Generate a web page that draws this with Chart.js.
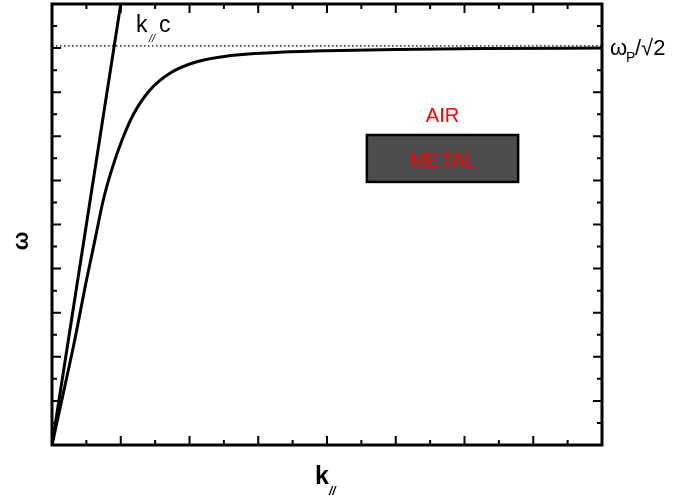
<!DOCTYPE html>
<html>
<head>
<meta charset="utf-8">
<script src="https://cdn.jsdelivr.net/npm/chart.js@4.4.1/dist/chart.umd.min.js"></script>
<style>
  html, body { margin: 0; padding: 0; background: #fff; }
  #wrap { width: 676px; height: 499px; }
</style>
</head>
<body>
<div id="wrap"><canvas id="myChart" width="676" height="499"></canvas></div>
<script>
// light line  w = k c
const lightK = [0, 2];
const lightW = [0, 20];
// surface plasmon curve
const sppK = [0, 0.35, 0.68, 0.98, 1.25, 1.49, 1.74, 2.03, 2.37, 2.85, 3.43, 4.21, 5.18, 6.5, 8, 10, 12.5, 16];
const sppW = [0, 2.5, 4.9, 7.3, 9.3, 11.1, 12.5, 13.8, 15.0, 16.1, 16.86, 17.38, 17.66, 17.8, 17.88, 17.94, 17.98, 18.0];
// wp/sqrt(2) asymptote
const asymK = [0, 16];
const asymW = [18.1, 18.1];
// tick positions (no labels in the figure)
const xTicks = [0, 1, 2, 3, 4, 5, 6, 7, 8, 9, 10, 11, 12, 13, 14, 15, 16];
const yTicks = [0, 1, 2, 3, 4, 5, 6, 7, 8, 9, 10, 11, 12, 13, 14, 15, 16, 17, 18, 19, 20];
// metal box corners in data units
const metalK = [9.16, 13.56];
const metalW = [11.93, 14.06];

function pts(xs, ys) {
  return xs.map((x, i) => ({ x: x, y: ys[i] }));
}

const FONT = '"Liberation Sans", Arial, sans-serif';

const decor = {
  id: 'decor',
  afterDraw(chart) {
    const ctx = chart.ctx;
    const a = chart.chartArea;
    const xs = chart.scales.x, ys = chart.scales.y;
    ctx.save();

    // metal box
    const bx0 = xs.getPixelForValue(metalK[0]), bx1 = xs.getPixelForValue(metalK[1]);
    const by0 = ys.getPixelForValue(metalW[1]), by1 = ys.getPixelForValue(metalW[0]);
    ctx.fillStyle = '#4d4d4d';
    ctx.fillRect(bx0, by0, bx1 - bx0, by1 - by0);
    ctx.lineWidth = 2.5;
    ctx.strokeStyle = '#000';
    ctx.strokeRect(bx0, by0, bx1 - bx0, by1 - by0);

    ctx.fillStyle = '#ff0000';
    ctx.textAlign = 'center';
    ctx.textBaseline = 'alphabetic';
    ctx.font = '20px ' + FONT;
    ctx.fillText('METAL', (bx0 + bx1) / 2, by1 - 15);
    ctx.fillText('AIR', (bx0 + bx1) / 2, by0 - 13);

    // frame
    ctx.strokeStyle = '#000';
    ctx.lineWidth = 3;
    ctx.strokeRect(a.left, a.top, a.right - a.left, a.bottom - a.top);

    // inward ticks on all four sides
    ctx.lineWidth = 2;
    ctx.beginPath();
    xTicks.forEach((t, i) => {
      if (i === 0 || i === xTicks.length - 1) return;
      const px = xs.getPixelForValue(t);
      const len = (i % 2 === 0) ? 9 : 5;
      ctx.moveTo(px, a.bottom); ctx.lineTo(px, a.bottom - len);
      ctx.moveTo(px, a.top); ctx.lineTo(px, a.top + len);
    });
    yTicks.forEach((t, i) => {
      if (i === 0 || i === yTicks.length - 1) return;
      const py = ys.getPixelForValue(t);
      const len = (i % 2 === 0) ? 9 : 5;
      ctx.moveTo(a.left, py); ctx.lineTo(a.left + len, py);
      ctx.moveTo(a.right, py); ctx.lineTo(a.right - len, py);
    });
    ctx.stroke();

    // labels
    ctx.fillStyle = '#000';
    ctx.textAlign = 'left';
    ctx.font = '23px ' + FONT;
    ctx.fillText('k', 136, 32);
    ctx.fillText('c', 159, 32);
    ctx.font = 'italic 11px ' + FONT;
    ctx.fillText('//', 149, 42);

    const ay = ys.getPixelForValue(asymW[0]);
    ctx.font = '22px ' + FONT;
    ctx.fillText('\u03c9', 610, ay + 9);
    ctx.font = '14px ' + FONT;
    ctx.fillText('P', 626, ay + 16);
    ctx.font = '22px ' + FONT;
    ctx.fillText('/\u221a2', 635, ay + 9);

    // axis titles
    ctx.font = 'bold 25px ' + FONT;
    ctx.fillText('k', 315, 484);
    ctx.font = 'italic bold 12px ' + FONT;
    ctx.fillText('//', 329, 495);

    ctx.translate(28, 241);
    ctx.rotate(-Math.PI / 2);
    ctx.textAlign = 'center';
    ctx.font = 'bold 22px ' + FONT;
    ctx.fillText('\u03c9', 0, 0);
    ctx.restore();
  }
};

const myChart = new Chart(document.getElementById('myChart').getContext('2d'), {
  type: 'scatter',
  data: {
    datasets: [
      {
        label: 'asymptote',
        data: pts(asymK, asymW),
        showLine: true,
        borderColor: '#000',
        borderWidth: 1.3,
        borderDash: [1.5, 2.5],
        pointRadius: 0
      },
      {
        label: 'light',
        data: pts(lightK, lightW),
        showLine: true,
        borderColor: '#000',
        borderWidth: 3,
        pointRadius: 0
      },
      {
        label: 'spp',
        data: pts(sppK, sppW),
        showLine: true,
        borderColor: '#000',
        borderWidth: 3,
        cubicInterpolationMode: 'monotone',
        pointRadius: 0
      }
    ]
  },
  options: {
    responsive: false,
    animation: false,
    layout: { padding: { left: 52, right: 74, top: 4, bottom: 54 } },
    plugins: { legend: { display: false }, tooltip: { enabled: false } },
    scales: {
      x: { type: 'linear', display: false, min: 0, max: 16 },
      y: { type: 'linear', display: false, min: 0, max: 20 }
    }
  },
  plugins: [decor]
});
</script>
</body>
</html>
